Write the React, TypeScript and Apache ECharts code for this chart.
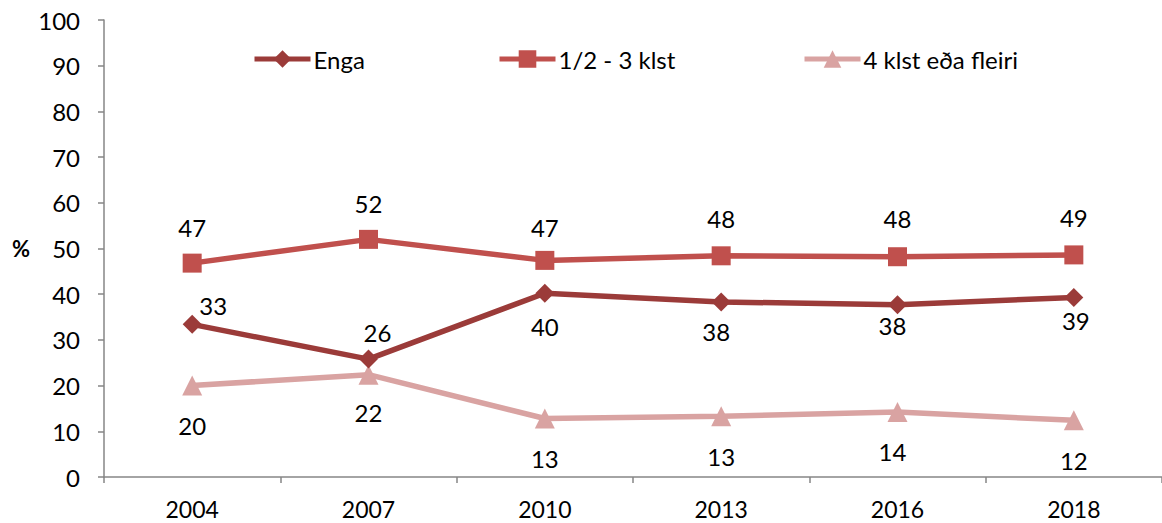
import React, { useEffect, useRef } from "react";
import * as echarts from "echarts";

const years = ["2004", "2007", "2010", "2013", "2016", "2018"];
const enga = [33.4, 25.8, 40.2, 38.3, 37.7, 39.3];
const halfToThree = [46.8, 52.0, 47.4, 48.4, 48.2, 48.6];
const fourPlus = [20.0, 22.4, 12.8, 13.3, 14.2, 12.4];
const seriesNames = ["Enga", "1/2 - 3 klst", "4 klst eða fleiri"];
const yTicks = { min: 0, max: 100, interval: 10 };

const engaOffsets = [[21, -19], [9, -27], [0, 33], [-5, 30], [-5, 21], [2, 23]];
const midOffsets = [[0, -36], [0, -36], [0, -33], [0, -37], [0, -38], [0, -37]];
const lowOffsets = [[0, 40], [0, 38], [0, 40], [0, 40], [-5, 39], [0, 40]];

const FONT = "Lato";
const FS = 24;
const colors = ["#9b3b39", "#c0504d", "#d9a3a2"];

function mkData(vals: number[], offs: number[][]) {
  return vals.map((v, i) => ({
    value: v,
    label: { offset: offs[i] },
  }));
}

export default function App() {
  const ref = useRef<HTMLDivElement>(null);
  useEffect(() => {
    if (!ref.current) return;
    const chart = echarts.init(ref.current, null, { renderer: "svg" });
    const label = {
      show: true,
      position: "inside",
      color: "#000",
      fontFamily: FONT,
      fontSize: FS,
      formatter: (p: any) => String(Math.round(p.value)),
    };
    const legendBase = {
      top: 42,
      itemWidth: 56,
      itemHeight: 22,
      itemGap: 5,
      lineStyle: { width: 5 },
      textStyle: { fontFamily: FONT, fontSize: FS, color: "#000", padding: [0, 0, 0, -2] },
    };
    chart.setOption({
      animation: false,
      backgroundColor: "#fff",
      color: colors,
      legend: [
        { ...legendBase, left: 247, data: [seriesNames[0]] },
        { ...legendBase, left: 492, data: [seriesNames[1]] },
        { ...legendBase, left: 797, data: [seriesNames[2]] },
      ],
      grid: { left: 104, top: 20, width: 1062, height: 457 },
      xAxis: {
        type: "category",
        data: years,
        boundaryGap: true,
        axisLine: { lineStyle: { color: "#868686", width: 1.5 } },
        axisTick: { show: true, length: 6, lineStyle: { color: "#868686", width: 1.5 } },
        axisLabel: { color: "#000", fontFamily: FONT, fontSize: 23, margin: 20 },
      },
      yAxis: {
        type: "value",
        min: yTicks.min,
        max: yTicks.max,
        interval: yTicks.interval,
        name: "%",
        nameLocation: "middle",
        nameRotate: 0,
        nameGap: 74,
        nameTextStyle: { color: "#000", fontFamily: FONT, fontSize: 22, fontWeight: "bold" },
        splitLine: { show: false },
        axisLine: { show: true, lineStyle: { color: "#868686", width: 1.5 } },
        axisTick: { show: true, length: 6, lineStyle: { color: "#868686", width: 1.5 } },
        axisLabel: { color: "#000", fontFamily: FONT, fontSize: FS, margin: 24 },
      },
      series: [
        {
          name: seriesNames[0],
          type: "line",
          data: mkData(enga, engaOffsets),
          symbol: "diamond",
          symbolSize: 19,
          lineStyle: { width: 5.5, color: colors[0] },
          itemStyle: { color: colors[0] },
          label,
          z: 3,
        },
        {
          name: seriesNames[1],
          type: "line",
          data: mkData(halfToThree, midOffsets),
          symbol: "rect",
          symbolSize: 19,
          lineStyle: { width: 5.5, color: colors[1] },
          itemStyle: { color: colors[1] },
          label,
          z: 2,
        },
        {
          name: seriesNames[2],
          type: "line",
          data: mkData(fourPlus, lowOffsets),
          symbol: "triangle",
          symbolSize: 20,
          lineStyle: { width: 5.5, color: colors[2] },
          itemStyle: { color: colors[2] },
          label,
          z: 1,
        },
      ],
    });
    return () => chart.dispose();
  }, []);
  return (
    <div
      ref={ref}
      style={{ position: "absolute", left: 0, top: 0, width: 1162, height: 523 }}
    />
  );
}
